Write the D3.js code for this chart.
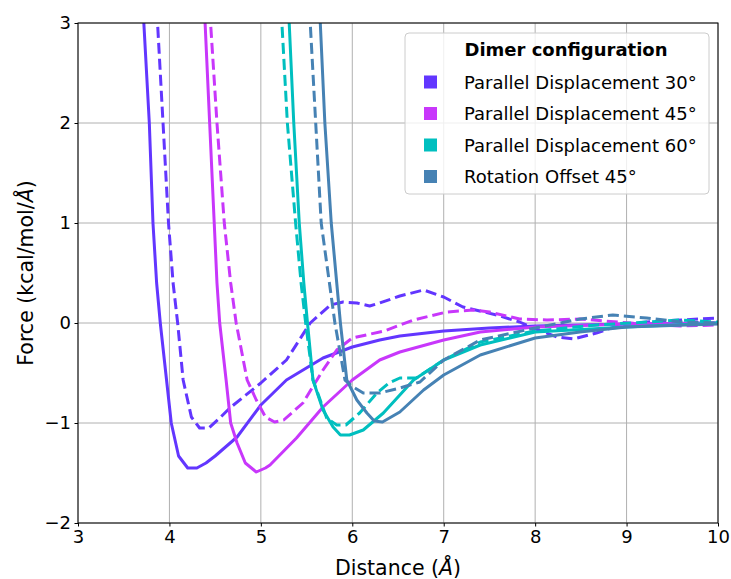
<!DOCTYPE html>
<html lang="en">
<head>
    <meta charset="UTF-8">
    <title>Dimer configuration force curves</title>
    <script src="https://d3js.org/d3.v7.min.js"></script>
    <style>
        body { margin: 0; background: #fff; }
        svg text { font-family: "DejaVu Sans", sans-serif; fill: #000; }
    </style>
</head>
<body>
    <div id="chart"></div>

    <script>
        // Dimer configurations (legend order)
        const configs = ["Parallel Displacement 30°", "Parallel Displacement 45°",
                         "Parallel Displacement 60°", "Rotation Offset 45°"];
        const colors = ["#6236ff", "#c837fb", "#00bfbf", "#4682b4"];

        const xTicks = [3, 4, 5, 6, 7, 8, 9, 10];
        const yTicks = [-2, -1, 0, 1, 2, 3];

        // distance (Å) / force (kcal/mol/Å), solid and dashed curve per config
        const pd30SolidD = [3.66, 3.72, 3.78, 3.82, 3.86, 3.9, 3.96, 4.02, 4.1, 4.2, 4.3, 4.4, 4.5, 4.74, 5.0, 5.28, 5.68, 6.0, 6.3, 6.52, 7.0, 7.5, 8.0, 9.0, 10.0];
        const pd30SolidF = [3.6, 3.0, 2.0, 1.0, 0.4, 0.0, -0.5, -1.0, -1.33, -1.45, -1.45, -1.4, -1.33, -1.14, -0.82, -0.57, -0.35, -0.24, -0.17, -0.13, -0.08, -0.05, -0.03, -0.01, 0.0];
        const pd30DashD = [3.82, 3.87, 3.93, 3.99, 4.04, 4.09, 4.15, 4.24, 4.33, 4.43, 4.55, 4.66, 5.0, 5.28, 5.54, 5.76, 5.9, 6.05, 6.19, 6.3, 6.52, 6.78, 7.0, 7.21, 7.58, 7.83, 7.98, 8.24, 8.42, 8.67, 8.93, 9.22, 9.6, 10.0];
        const pd30DashF = [3.6, 3.0, 2.0, 1.0, 0.4, 0.0, -0.57, -0.94, -1.05, -1.05, -0.95, -0.85, -0.6, -0.37, 0.0, 0.18, 0.21, 0.2, 0.17, 0.2, 0.27, 0.33, 0.26, 0.16, 0.08, 0.01, -0.05, -0.14, -0.16, -0.1, -0.02, 0.01, 0.03, 0.05];

        const pd45SolidD = [4.35, 4.39, 4.44, 4.49, 4.52, 4.55, 4.62, 4.67, 4.74, 4.83, 4.95, 5.05, 5.1, 5.39, 5.68, 6.0, 6.3, 6.52, 7.0, 7.4, 8.0, 9.0, 10.0];
        const pd45SolidF = [3.6, 3.0, 2.0, 1.0, 0.4, 0.0, -0.57, -1.0, -1.2, -1.4, -1.49, -1.45, -1.42, -1.15, -0.84, -0.57, -0.37, -0.29, -0.17, -0.09, -0.04, -0.01, 0.0];
        const pd45DashD = [4.4, 4.45, 4.52, 4.6, 4.67, 4.73, 4.85, 4.95, 5.05, 5.15, 5.25, 5.46, 5.68, 5.83, 6.0, 6.2, 6.35, 6.67, 7.03, 7.32, 7.5, 7.83, 8.13, 8.49, 9.04, 9.59, 10.0];
        const pd45DashF = [3.6, 3.0, 2.0, 1.0, 0.4, 0.0, -0.57, -0.77, -0.94, -0.99, -0.97, -0.8, -0.47, -0.27, -0.15, -0.11, -0.08, 0.03, 0.11, 0.13, 0.11, 0.04, 0.03, 0.04, 0.0, -0.03, -0.02];

        const pd60SolidD = [5.27, 5.31, 5.36, 5.42, 5.47, 5.51, 5.57, 5.68, 5.79, 5.87, 5.97, 6.12, 6.34, 6.52, 6.67, 7.0, 7.4, 8.0, 9.0, 10.0];
        const pd60SolidF = [3.6, 3.0, 2.0, 1.0, 0.4, 0.0, -0.57, -0.87, -1.04, -1.12, -1.12, -1.07, -0.9, -0.72, -0.57, -0.37, -0.22, -0.09, -0.04, 0.0];
        const pd60DashD = [5.19, 5.23, 5.29, 5.38, 5.44, 5.49, 5.57, 5.72, 5.83, 5.93, 6.08, 6.27, 6.4, 6.52, 6.7, 7.0, 7.4, 8.0, 8.67, 9.59, 10.0];
        const pd60DashF = [3.6, 3.0, 2.0, 1.0, 0.4, 0.0, -0.57, -0.95, -1.02, -1.02, -0.9, -0.7, -0.6, -0.55, -0.55, -0.37, -0.19, -0.08, -0.02, 0.03, 0.01];

        const roSolidD = [5.61, 5.65, 5.7, 5.77, 5.83, 5.87, 5.94, 6.05, 6.16, 6.24, 6.33, 6.52, 6.78, 7.0, 7.4, 8.0, 8.49, 9.0, 10.0];
        const roSolidF = [3.6, 3.0, 2.0, 1.0, 0.4, 0.0, -0.57, -0.77, -0.9, -0.98, -0.99, -0.89, -0.67, -0.52, -0.32, -0.15, -0.09, -0.04, -0.01];
        const roDashD = [5.5, 5.54, 5.6, 5.66, 5.75, 5.81, 5.92, 6.01, 6.12, 6.3, 6.52, 6.74, 7.0, 7.4, 8.0, 8.49, 8.85, 9.22, 9.59, 10.0];
        const roDashF = [3.6, 3.0, 2.0, 1.0, 0.4, 0.0, -0.57, -0.64, -0.7, -0.7, -0.65, -0.59, -0.37, -0.17, -0.05, 0.04, 0.08, 0.05, 0.01, 0.0];

        const series = [
            { c: 0, dash: false, d: pd30SolidD, f: pd30SolidF },
            { c: 0, dash: true,  d: pd30DashD,  f: pd30DashF },
            { c: 1, dash: false, d: pd45SolidD, f: pd45SolidF },
            { c: 1, dash: true,  d: pd45DashD,  f: pd45DashF },
            { c: 2, dash: false, d: pd60SolidD, f: pd60SolidF },
            { c: 2, dash: true,  d: pd60DashD,  f: pd60DashF },
            { c: 3, dash: false, d: roSolidD,   f: roSolidF },
            { c: 3, dash: true,  d: roDashD,    f: roDashF }
        ];

        const width = 731, height = 579;
        const margin = { top: 23, right: 13, bottom: 56, left: 78 };
        const w = width - margin.left - margin.right;
        const h = height - margin.top - margin.bottom;

        const svg = d3.select("#chart").append("svg")
            .attr("width", width)
            .attr("height", height);

        const g = svg.append("g")
            .attr("transform", `translate(${margin.left},${margin.top})`);

        const x = d3.scaleLinear().domain([3, 10]).range([0, w]);
        const y = d3.scaleLinear().domain([-2, 3]).range([h, 0]);

        // grid
        g.append("g").selectAll("line").data(xTicks).join("line")
            .attr("x1", d => x(d)).attr("x2", d => x(d))
            .attr("y1", 0).attr("y2", h)
            .attr("stroke", "#b0b0b0").attr("stroke-width", 1);
        g.append("g").selectAll("line").data(yTicks).join("line")
            .attr("x1", 0).attr("x2", w)
            .attr("y1", d => y(d)).attr("y2", d => y(d))
            .attr("stroke", "#b0b0b0").attr("stroke-width", 1);

        g.append("clipPath").attr("id", "clip")
            .append("rect").attr("width", w).attr("height", h);

        const line = d3.line()
            .x(p => x(p[0]))
            .y(p => y(p[1]));

        g.append("g").attr("clip-path", "url(#clip)")
            .selectAll("path").data(series).join("path")
            .attr("d", s => line(s.d.map((v, i) => [v, s.f[i]])))
            .attr("fill", "none")
            .attr("stroke", s => colors[s.c])
            .attr("stroke-width", 3)
            .attr("stroke-dasharray", s => s.dash ? "11,5" : null)
            .attr("stroke-linejoin", "round");

        // axes
        const fmt = d => d < 0 ? "\u2212" + Math.abs(d) : String(d);
        const xAxis = g.append("g").attr("transform", `translate(0,${h})`)
            .call(d3.axisBottom(x).tickValues(xTicks).tickFormat(fmt).tickSizeOuter(0).tickSize(3.5).tickPadding(3.5));
        const yAxis = g.append("g")
            .call(d3.axisLeft(y).tickValues(yTicks).tickFormat(fmt).tickSizeOuter(0).tickSize(3.5).tickPadding(3.5));
        [xAxis, yAxis].forEach(a => {
            a.select(".domain").remove();
            a.selectAll("text").attr("font-size", 18).attr("font-family", "DejaVu Sans");
            a.selectAll("line").attr("stroke", "#000");
        });

        // frame
        g.append("rect").attr("width", w).attr("height", h)
            .attr("fill", "none").attr("stroke", "#000").attr("stroke-width", 1);

        // axis labels
        const xl = svg.append("text")
            .attr("x", margin.left + w / 2).attr("y", 575)
            .attr("text-anchor", "middle").attr("font-size", 20.5);
        xl.append("tspan").text("Distance (");
        xl.append("tspan").attr("font-style", "italic").text("Å");
        xl.append("tspan").text(")");

        const yl = svg.append("text")
            .attr("transform", `translate(33,${margin.top + h / 2}) rotate(-90)`)
            .attr("text-anchor", "middle").attr("font-size", 20.5);
        yl.append("tspan").text("Force (kcal/mol/");
        yl.append("tspan").attr("font-style", "italic").text("Å");
        yl.append("tspan").text(")");

        // legend
        const lg = svg.append("g").attr("transform", "translate(405,33)");
        lg.append("rect").attr("width", 304).attr("height", 161)
            .attr("rx", 4).attr("fill", "#fff").attr("fill-opacity", 0.8)
            .attr("stroke", "#cccccc");
        lg.append("text").attr("x", 161).attr("y", 23)
            .attr("text-anchor", "middle").attr("font-size", 18).attr("font-weight", "bold")
            .text("Dimer configuration");
        const items = lg.selectAll("g.item").data(configs).join("g")
            .attr("class", "item")
            .attr("transform", (d, i) => `translate(0,${49 + i * 31.5})`);
        items.append("rect").attr("x", 19).attr("y", -6.5).attr("width", 13).attr("height", 13)
            .attr("fill", (d, i) => colors[i]);
        items.append("text").attr("x", 59).attr("y", 6.5).attr("font-size", 18)
            .text(d => d);
    </script>
</body>
</html>
